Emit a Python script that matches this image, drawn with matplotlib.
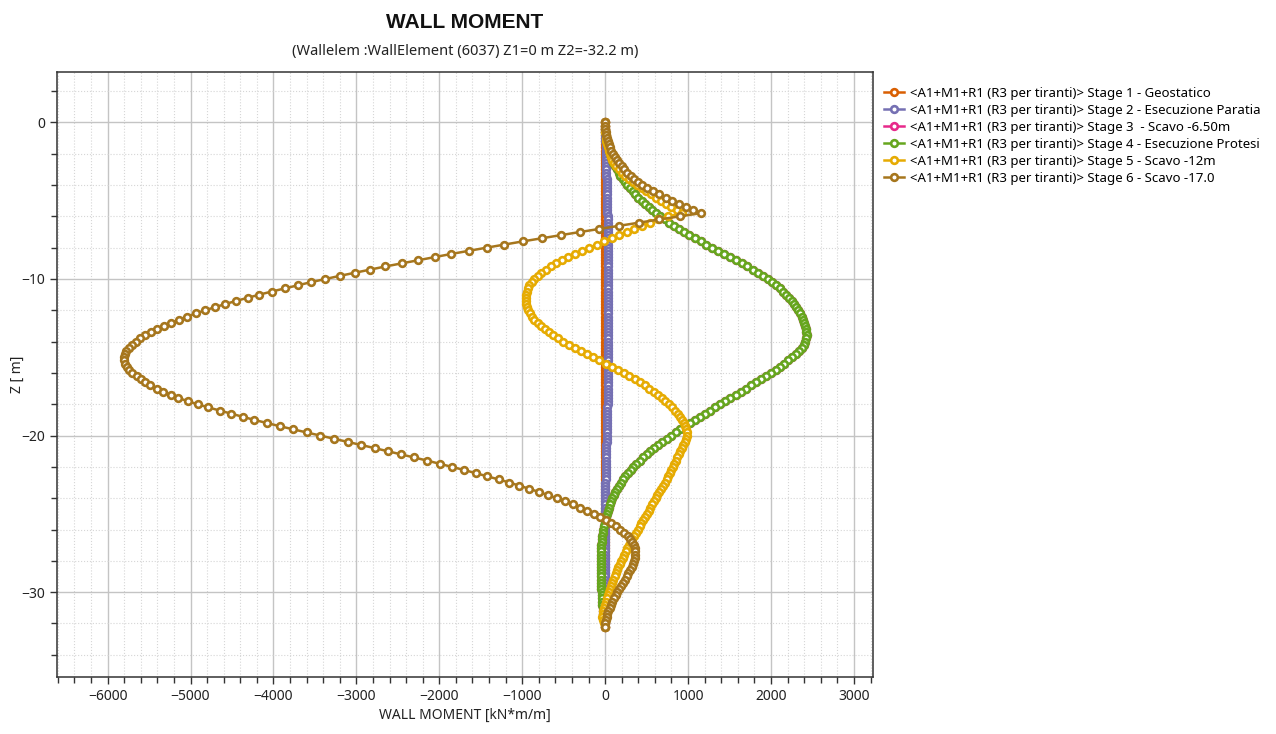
import matplotlib
matplotlib.use("Agg")
import matplotlib.pyplot as plt
from matplotlib.ticker import MultipleLocator

plt.rcParams['font.family'] = ['Noto Sans', 'DejaVu Sans']

# nodi della paratia (m)
depth = [
    0.0, -0.2, -0.4, -0.6, -0.8, -1.0, -1.2, -1.4, -1.6, -1.8,
    -2.0, -2.2, -2.4, -2.6, -2.8, -3.0, -3.2, -3.4, -3.6, -3.8,
    -4.0, -4.2, -4.4, -4.6, -4.8, -5.0, -5.2, -5.4, -5.6, -5.8,
    -6.0, -6.2, -6.4, -6.6, -6.8, -7.0, -7.2, -7.4, -7.6, -7.8,
    -8.0, -8.2, -8.4, -8.6, -8.8, -9.0, -9.2, -9.4, -9.6, -9.8,
    -10.0, -10.2, -10.4, -10.6, -10.8, -11.0, -11.2, -11.4, -11.6, -11.8,
    -12.0, -12.2, -12.4, -12.6, -12.8, -13.0, -13.2, -13.4, -13.6, -13.8,
    -14.0, -14.2, -14.4, -14.6, -14.8, -15.0, -15.2, -15.4, -15.6, -15.8,
    -16.0, -16.2, -16.4, -16.6, -16.8, -17.0, -17.2, -17.4, -17.6, -17.8,
    -18.0, -18.2, -18.4, -18.6, -18.8, -19.0, -19.2, -19.4, -19.6, -19.8,
    -20.0, -20.2, -20.4, -20.6, -20.8, -21.0, -21.2, -21.4, -21.6, -21.8,
    -22.0, -22.2, -22.4, -22.6, -22.8, -23.0, -23.2, -23.4, -23.6, -23.8,
    -24.0, -24.2, -24.4, -24.6, -24.8, -25.0, -25.2, -25.4, -25.6, -25.8,
    -26.0, -26.2, -26.4, -26.6, -26.8, -27.0, -27.2, -27.4, -27.6, -27.8,
    -28.0, -28.2, -28.4, -28.6, -28.8, -29.0, -29.2, -29.4, -29.6, -29.8,
    -30.0, -30.2, -30.4, -30.6, -30.8, -31.0, -31.2, -31.4, -31.6, -31.8,
    -32.0, -32.2,
]

# momento [kN*m/m] per fase
# fase 1 geostatica: momento nullo
m_stage1 = [0] * len(depth)

m_stage2 = [
    0, 0, 1, 1, 2, 3, 4, 5, 6, 7,
    8, 9, 10, 11, 12, 14, 15, 16, 17, 18,
    19, 20, 21, 22, 23, 24, 25, 26, 27, 28,
    29, 30, 30, 31, 31, 32, 32, 33, 33, 34,
    34, 35, 35, 36, 36, 37, 37, 38, 38, 39,
    39, 39, 40, 40, 40, 40, 40, 40, 40, 40,
    40, 40, 40, 40, 40, 40, 40, 40, 40, 40,
    40, 40, 40, 40, 39, 39, 39, 38, 38, 37,
    37, 36, 36, 35, 35, 34, 33, 32, 31, 30,
    29, 28, 27, 26, 25, 24, 23, 22, 21, 20,
    19, 18, 17, 16, 15, 14, 13, 12, 11, 10,
    9, 8, 7, 6, 5, 4, 3, 2, 1, 0,
    0, -1, -1, -2, -2, -3, -3, -4, -4, -4,
    -5, -5, -5, -5, -5, -5, -5, -5, -5, -5,
    -5, -5, -4, -4, -4, -4, -3, -3, -3, -3,
    -2, -2, -2, -2, -1, -1, -1, -1, 0, 0,
    0, 0,
]

m_stage4 = [
    0, 0, 1, 2, 5, 9, 15, 22, 31, 42,
    54, 68, 83, 100, 119, 140, 162, 185, 211, 238,
    267, 298, 331, 365, 402, 440, 481, 524, 569, 616,
    665, 716, 770, 827, 887, 950, 1015, 1082, 1150, 1220,
    1290, 1362, 1434, 1506, 1578, 1648, 1716, 1782, 1845, 1906,
    1963, 2016, 2065, 2109, 2150, 2186, 2220, 2251, 2280, 2306,
    2330, 2351, 2370, 2386, 2400, 2412, 2422, 2428, 2430, 2425,
    2415, 2396, 2370, 2337, 2300, 2257, 2210, 2161, 2110, 2056,
    2000, 1940, 1880, 1820, 1760, 1698, 1635, 1572, 1510, 1448,
    1385, 1322, 1260, 1200, 1140, 1080, 1020, 962, 905, 850,
    795, 742, 690, 640, 590, 544, 500, 457, 415, 376,
    340, 306, 275, 244, 215, 189, 165, 142, 120, 102,
    85, 69, 55, 42, 30, 20, 10, 2, -5, -13,
    -20, -26, -32, -37, -42, -45, -48, -50, -52, -54,
    -55, -55, -55, -55, -54, -53, -52, -50, -48, -46,
    -43, -41, -38, -35, -32, -28, -24, -20, -15, -10,
    -5, 0,
]

# fase 3 coincide con la fase 4 (nascosta sotto la curva verde)
m_stage3 = list(m_stage4)

m_stage5 = [
    0, 0, 1, 3, 6, 10, 16, 24, 34, 46,
    57, 70, 86, 106, 133, 165, 203, 244, 286, 330,
    385, 440, 497, 555, 613, 672, 735, 800, 865, 930,
    760, 640, 535, 440, 350, 258, 168, 80, -10, -100,
    -190, -280, -365, -445, -520, -590, -655, -715, -768, -815,
    -855, -888, -913, -932, -945, -953, -957, -957, -952, -942,
    -927, -907, -882, -852, -815, -773, -727, -677, -623, -565,
    -503, -437, -368, -296, -222, -146, -70, 6, 80, 152,
    222, 290, 355, 417, 477, 533, 586, 636, 683, 727,
    768, 806, 841, 873, 901, 926, 947, 964, 976, 983,
    983, 975, 960, 942, 924, 906, 888, 870, 852, 834,
    817, 800, 781, 761, 740, 718, 696, 674, 652, 630,
    609, 588, 566, 545, 523, 501, 480, 458, 436, 415,
    393, 372, 350, 329, 308, 288, 268, 249, 230, 212,
    194, 177, 160, 144, 128, 113, 98, 85, 72, 60,
    48, 36, 24, 12, 0, -12, -22, -30, -33, -30,
    -18, 0,
]

m_stage6 = [
    0, 1, 4, 8, 14, 22, 32, 44, 58, 73,
    90, 113, 138, 167, 198, 232, 268, 307, 350, 397,
    448, 510, 578, 650, 728, 808, 890, 975, 1062, 1150,
    900, 650, 410, 170, -70, -305, -535, -765, -995, -1215,
    -1430, -1645, -1855, -2055, -2255, -2455, -2650, -2835, -3020, -3200,
    -3375, -3545, -3705, -3865, -4020, -4170, -4310, -4450, -4580, -4705,
    -4825, -4935, -5040, -5140, -5235, -5320, -5400, -5475, -5545, -5605,
    -5660, -5705, -5745, -5775, -5795, -5805, -5800, -5790, -5770, -5740,
    -5700, -5650, -5600, -5545, -5485, -5410, -5330, -5240, -5145, -5035,
    -4915, -4785, -4650, -4510, -4370, -4230, -4080, -3925, -3765, -3600,
    -3435, -3265, -3105, -2940, -2780, -2620, -2460, -2305, -2145, -1995,
    -1850, -1700, -1560, -1420, -1285, -1155, -1035, -915, -800, -690,
    -585, -485, -390, -300, -215, -135, -60, 10, 75, 135,
    185, 230, 270, 300, 325, 345, 360, 365, 365, 360,
    350, 335, 320, 300, 280, 258, 235, 212, 190, 168,
    146, 125, 105, 87, 70, 54, 40, 28, 18, 10,
    4, 0,
]

prefix = '<A1+M1+R1 (R3 per tiranti)> '
stage_names = [
    'Stage 1 - Geostatico',
    'Stage 2 - Esecuzione Paratia',
    'Stage 3  - Scavo -6.50m',
    'Stage 4 - Esecuzione Protesi',
    'Stage 5 - Scavo -12m',
    'Stage 6 - Scavo -17.0',
]
colors = ['#D95F02', '#7570B3', '#E7298A', '#66A61E', '#E6AB02', '#A6761D']
stages = [m_stage1, m_stage2, m_stage3, m_stage4, m_stage5, m_stage6]

fig = plt.figure(figsize=(12.76, 7.34), dpi=100)
ax = fig.add_axes([57 / 1276, 57 / 734, 816 / 1276, 605 / 734])

for vals, name, col in zip(stages, stage_names, colors):
    ax.plot(vals, depth, color=col, lw=1.8, marker='o', ms=4.8,
            mfc='white', mec=col, mew=1.9, label=prefix + name)

ax.set_xlim(-6610, 3230)
ax.set_ylim(-35.42, 3.22)
ax.xaxis.set_major_locator(MultipleLocator(1000))
ax.xaxis.set_minor_locator(MultipleLocator(200))
ax.yaxis.set_major_locator(MultipleLocator(10))
ax.yaxis.set_minor_locator(MultipleLocator(2))

ax.grid(which='major', color='#c4c4c4', lw=1.0, ls='-')
ax.grid(which='minor', color='#d6d6d6', lw=0.8, ls=':')
ax.set_axisbelow(True)

for sp in ax.spines.values():
    sp.set_color('#333333')
    sp.set_linewidth(1.1)
ax.tick_params(which='major', direction='out', length=5, width=1, colors='#333333',
               labelsize=10, labelcolor='#222222')
ax.tick_params(which='minor', direction='out', length=4, width=1, colors='#333333')

ax.set_xlabel('WALL MOMENT [kN*m/m]', fontsize=10, color='#222222', labelpad=3)
fig.text(17 / 1276, 1 - 374 / 734, 'Z [ m]', rotation=90, ha='center', va='center',
         fontsize=10, color='#222222')

fig.text(465 / 1276, 1 - 22 / 734, 'WALL MOMENT', ha='center', va='center',
         fontsize=15, fontweight='bold', color='#111111',
         family=['Liberation Sans', 'DejaVu Sans'])
fig.text(465 / 1276, 1 - 52 / 734, '(Wallelem :WallElement (6037) Z1=0 m Z2=-32.2 m)',
         ha='center', va='center', fontsize=10.5, color='#222222')

fig.legend(loc='upper left', bbox_to_anchor=(884 / 1276, 1 - 87 / 734),
           frameon=False, fontsize=9.5, handlelength=1.5, handletextpad=0.5,
           labelspacing=0.3, borderpad=0, borderaxespad=0)

fig.savefig('out.png', dpi=100)
